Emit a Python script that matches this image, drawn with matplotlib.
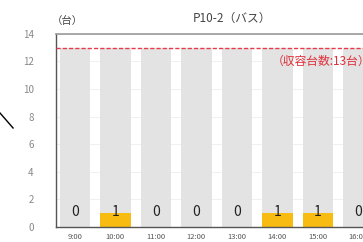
import matplotlib
matplotlib.use('Agg')
import matplotlib.pyplot as plt
from matplotlib.lines import Line2D

plt.rcParams['font.family'] = ['Noto Sans CJK JP', 'DejaVu Sans']

# data
hours = ['9:00', '10:00', '11:00', '12:00', '13:00', '14:00', '15:00', '16:00']
parked = [0, 1, 0, 0, 0, 1, 1, 0]
capacity = 13
title = 'P10-2（バス）'

fig = plt.figure(figsize=(3.63, 2.42), dpi=100)
ax = fig.add_axes([0.154, 0.062, 0.90, 0.798])

x = list(range(len(hours)))
# capacity background bars, then the counts on top
ax.bar(x, [capacity] * len(x), width=0.75, color='#e3e3e3', zorder=1)
ax.bar(x, parked, width=0.75, color='#f7bb12', zorder=2)
ax.axhline(capacity, color='#e8394a', linestyle=(0, (3, 1.5)), linewidth=1.0, zorder=3)
ax.text(4.85, capacity - 0.5, '（収容台数:13台）', color='#e0303c', fontsize=8.5,
        va='top', ha='left', zorder=4)

for xi, v in zip(x, parked):
    ax.text(xi, 1.1, str(v), ha='center', va='center', fontsize=10, color='#222222', zorder=4)

ax.set_xlim(-0.47, 7.6)
ax.set_ylim(0, 14)
ax.set_yticks(range(0, 15, 2))
ax.set_xticks(x)
ax.set_xticklabels(hours)
ax.tick_params(axis='y', length=0, labelsize=7, labelcolor='#888888', pad=16)
ax.tick_params(axis='x', direction='in', length=2, width=0.8, color='#555555',
               labelsize=5.5, labelcolor='#555555', pad=4)
ax.grid(axis='y', color='#eeeeee', linewidth=0.6, zorder=0)
ax.set_axisbelow(True)

for side in ['left', 'bottom']:
    ax.spines[side].set_color('#555555')
    ax.spines[side].set_linewidth(1.0)
ax.spines['top'].set_color('#999999')
ax.spines['top'].set_linewidth(1.2)
ax.spines['right'].set_visible(False)

fig.text(0.142, 0.915, '（台）', fontsize=7.5, color='#444444', ha='left', va='center')
fig.text(0.64, 0.925, title, fontsize=8.5, color='#444444', ha='center', va='center')

# stray leader line at the left edge
fig.add_artist(Line2D([0.0, 0.036], [1 - 113 / 242, 1 - 128 / 242], color='black', linewidth=1.0))

fig.savefig('out.png', dpi=100)
